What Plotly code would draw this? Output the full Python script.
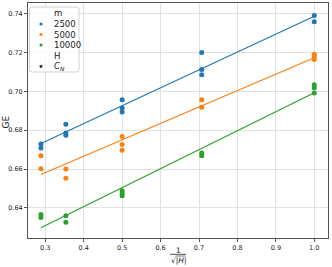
import numpy as np
import plotly.graph_objects as go

# ---- data ----
m_values = ["2500", "5000", "10000"]
colors = ["#1f77b4", "#ff7f0e", "#2ca02c"]
H_values = [12, 12, 8, 8, 8, 4, 4, 4, 2, 2, 2, 1, 1]
ge_2500 = [0.6729, 0.6709, 0.6831, 0.6786, 0.6774, 0.6957, 0.6915, 0.6894, 0.7200, 0.7112, 0.7086, 0.7390, 0.7359]
H_5000 = [12, 12, 8, 8, 4, 4, 4, 2, 2, 1, 1, 1]
ge_5000 = [0.6668, 0.6602, 0.6600, 0.6553, 0.6767, 0.6726, 0.6697, 0.6957, 0.6918, 0.7191, 0.7178, 0.7164]
H_10000 = [12, 12, 8, 8, 4, 4, 4, 2, 2, 1, 1, 1]
ge_10000 = [0.6366, 0.6351, 0.6359, 0.6326, 0.6488, 0.6474, 0.6462, 0.6683, 0.6668, 0.7034, 0.7019, 0.6991]

series_H = [H_values, H_5000, H_10000]
series_ge = [ge_2500, ge_5000, ge_10000]

x_ticks = [0.3, 0.4, 0.5, 0.6, 0.7, 0.8, 0.9, 1.0]
y_ticks = [0.64, 0.66, 0.68, 0.70, 0.72, 0.74]

FONT = "DejaVu Sans"
W, H = 332, 267
L, R, T, B = 28, 4, 3, 29

fig = go.Figure()
for name, col, hs, ge in zip(m_values, colors, series_H, series_ge):
    x = 1 / np.sqrt(np.array(hs, dtype=float))
    y = np.array(ge)
    fig.add_trace(go.Scatter(x=x, y=y, mode="markers", name=name,
                             marker=dict(color=col, size=5, line=dict(width=0)),
                             showlegend=False))
    k, b = np.polyfit(x, y, 1)
    xf = np.array([x.min(), x.max()])
    fig.add_trace(go.Scatter(x=xf, y=k * xf + b, mode="lines",
                             line=dict(color=col, width=1.2), showlegend=False))

pw = W - L - R
ph = H - T - B


def px2paper(px, py):
    return (px - L) / pw, (H - B - py) / ph


shapes = []
annotations = []

# legend box
x0, y0 = px2paper(29.5, 7)
x1, y1 = px2paper(79, 72)
rx, ry = 2.5 / pw, 2.5 / ph
path = (f"M {x0+rx},{y0} L {x1-rx},{y0} Q {x1},{y0} {x1},{y0-ry} "
        f"L {x1},{y1+ry} Q {x1},{y1} {x1-rx},{y1} L {x0+rx},{y1} "
        f"Q {x0},{y1} {x0},{y1+ry} L {x0},{y0-ry} Q {x0},{y0} {x0+rx},{y0} Z")
shapes.append(dict(type="path", xref="paper", yref="paper", path=path,
                   line=dict(color="#d0d0d0", width=1), fillcolor="rgba(255,255,255,0.8)"))

legend_rows = [("m", None), ("2500", colors[0]), ("5000", colors[1]),
               ("10000", colors[2]), ("H", None), ("<i>C</i><sub><i>N</i></sub>", "#333333")]
row_y = [13.3, 24, 34.5, 45, 55.5, 66.3]
for (txt, col), py in zip(legend_rows, row_y):
    ax, ay = px2paper(52, py)
    annotations.append(dict(x=ax, y=ay, xref="paper", yref="paper", text=txt,
                            showarrow=False, xanchor="left", yanchor="middle",
                            font=dict(family=FONT, size=8.5, color="#222")))
    if col:
        mx, my = px2paper(41, py)
        shapes.append(dict(type="circle", xref="paper", yref="paper",
                           xsizemode="pixel", ysizemode="pixel",
                           xanchor=mx, yanchor=my, x0=-1.6, x1=1.6, y0=-1.6, y1=1.6,
                           fillcolor=col, line=dict(width=0)))

# y axis title
gx, gy = px2paper(5.5, 122)
annotations.append(dict(x=gx, y=gy, xref="paper", yref="paper", text="GE",
                        showarrow=False, xanchor="center", yanchor="middle", textangle=-90,
                        font=dict(family=FONT, size=9, color="#222")))

# x axis title: 1 / sqrt(|H|)
cx = L + pw / 2
ax, ay = px2paper(cx, 250.3)
annotations.append(dict(x=ax, y=ay, xref="paper", yref="paper", text="1",
                        showarrow=False, xanchor="center", yanchor="middle",
                        font=dict(family=FONT, size=7.5, color="#222")))
lx0, ly = px2paper(cx - 8, 254.3)
lx1, _ = px2paper(cx + 8, 254.3)
shapes.append(dict(type="line", xref="paper", yref="paper", x0=lx0, x1=lx1, y0=ly, y1=ly,
                   line=dict(color="#222", width=0.8)))
ax, ay = px2paper(cx + 0.5, 260)
annotations.append(dict(x=ax, y=ay, xref="paper", yref="paper", text="√|<i>H</i>|",
                        showarrow=False, xanchor="center", yanchor="middle",
                        font=dict(family=FONT, size=7.5, color="#222")))
ox0, oy = px2paper(cx - 2.5, 256.0)
ox1, _ = px2paper(cx + 7.5, 256.0)
shapes.append(dict(type="line", xref="paper", yref="paper", x0=ox0, x1=ox1, y0=oy, y1=oy,
                   line=dict(color="#222", width=0.6)))

axis_common = dict(showgrid=True, gridcolor="#e2e2e2", gridwidth=1,
                   showline=True, linecolor="#555", linewidth=1, mirror=True,
                   ticks="outside", ticklen=3, tickcolor="#555", zeroline=False,
                   automargin=False,
                   tickfont=dict(family=FONT, size=6.5, color="#222"))

fig.update_layout(
    width=W, height=H,
    margin=dict(l=L, r=R, t=T, b=B),
    paper_bgcolor="white", plot_bgcolor="white",
    xaxis=dict(range=[0.255, 1.0357], tickvals=x_ticks,
               ticktext=[f"{v:.1f}" for v in x_ticks], **axis_common),
    yaxis=dict(range=[0.6245, 0.7455], tickvals=y_ticks,
               ticktext=[f"{v:.2f}" for v in y_ticks], **axis_common),
    shapes=shapes, annotations=annotations, showlegend=False,
)

fig.write_html("out.html", config={"displayModeBar": False},
               post_script="document.body.style.margin='0';")
